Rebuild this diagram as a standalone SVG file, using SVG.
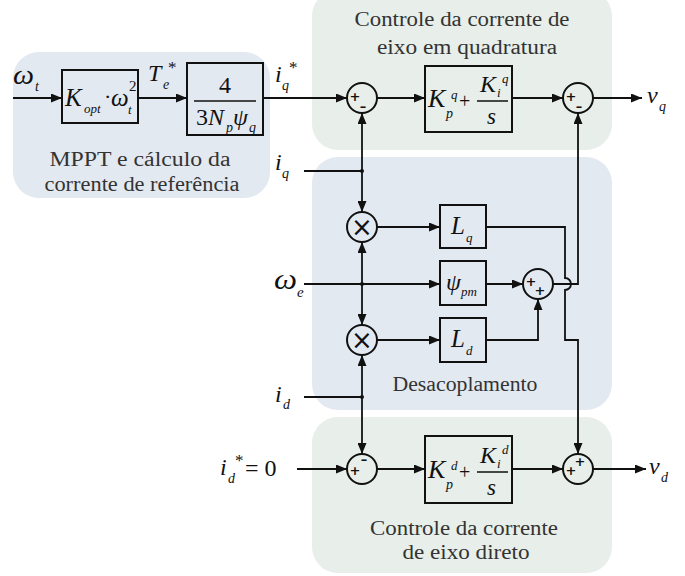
<svg xmlns="http://www.w3.org/2000/svg" width="685" height="576" viewBox="0 0 685 576" font-family="Liberation Serif, serif">
<defs>
<marker id="ar" markerUnits="userSpaceOnUse" markerWidth="11" markerHeight="9" refX="11" refY="4.5" orient="auto">
<path d="M0,0 L11,4.5 L0,9 z" fill="#111"/>
</marker>
</defs>

<g id="regions">
<rect id="mppt-region" fill="#e3e9f1" x="13" y="52" width="257" height="146" rx="26"/>
<rect id="q-region" fill="#e8eee9" x="312" y="-10" width="300" height="160" rx="26"/>
<rect id="dec-region" fill="#e3e9f1" x="312" y="157" width="300" height="253" rx="26"/>
<rect id="d-region" fill="#e8eee9" x="312" y="417" width="300" height="156" rx="26"/>
<g font-family="Liberation Serif" font-size="20" fill="#333" text-anchor="middle">
<text x="462" y="26" textLength="215" lengthAdjust="spacingAndGlyphs">Controle da corrente de</text>
<text x="467" y="54" textLength="180" lengthAdjust="spacingAndGlyphs">eixo em quadratura</text>
<text x="140" y="166" textLength="181" lengthAdjust="spacingAndGlyphs">MPPT e cálculo da</text>
<text x="142" y="191" textLength="195" lengthAdjust="spacingAndGlyphs">corrente de referência</text>
<text x="465" y="391" textLength="145" lengthAdjust="spacingAndGlyphs">Desacoplamento</text>
<text x="464" y="535" textLength="188" lengthAdjust="spacingAndGlyphs">Controle da corrente</text>
<text x="466" y="559" textLength="127" lengthAdjust="spacingAndGlyphs">de eixo direto</text>
</g>
</g>

<g id="inputs" font-family="Liberation Serif" fill="#111">
<g font-style="italic">
<text x="13" y="84" font-size="27" textLength="21" lengthAdjust="spacingAndGlyphs">ω</text>
<text x="35" y="91" font-size="14">t</text>
<text x="148" y="81" font-size="24">T</text>
<text x="163" y="89" font-size="14">e</text>
<text x="275" y="82" font-size="24">i</text>
<text x="282" y="90" font-size="14">q</text>
<text x="275" y="170" font-size="24">i</text>
<text x="282" y="178" font-size="14">q</text>
<text x="274" y="289" font-size="29" textLength="23" lengthAdjust="spacingAndGlyphs">ω</text>
<text x="297" y="297" font-size="15">e</text>
<text x="275" y="402" font-size="24">i</text>
<text x="283" y="409" font-size="14">d</text>
<text x="220" y="475" font-size="24">i</text>
<text x="228" y="483" font-size="14">d</text>
<text x="647" y="103" font-size="24">v</text>
<text x="659" y="111" font-size="14">q</text>
<text x="649" y="474" font-size="24">v</text>
<text x="661" y="482" font-size="14">d</text>
</g>
<text x="168" y="73" font-size="17">*</text>
<text x="289" y="73" font-size="17">*</text>
<text x="235" y="466" font-size="17">*</text>
<text x="245" y="476" font-size="24">= 0</text>
</g>

<g id="kopt" font-family="Liberation Serif" fill="#111">
<rect fill="none" stroke="#111" stroke-width="2" x="62" y="70" width="76" height="53"/>
<text x="65" y="106" font-size="25" font-style="italic">K</text>
<text x="84" y="113" font-size="13" font-style="italic">opt</text>
<text x="104" y="104" font-size="22">·</text>
<text x="111" y="106" font-size="25" font-style="italic">ω</text>
<text x="128" y="114" font-size="13" font-style="italic">t</text>
<text x="129" y="91" font-size="15">2</text>
</g>

<g id="gain" font-family="Liberation Serif" fill="#111">
<rect fill="none" stroke="#111" stroke-width="2" x="187" y="63" width="76" height="72"/>
<text x="225" y="93" font-size="24" text-anchor="middle">4</text>
<line stroke="#111" stroke-width="1.5" x1="194" y1="101" x2="256" y2="101"/>
<text x="196" y="125" font-size="24">3</text>
<text x="208" y="125" font-size="24" font-style="italic">N</text>
<text x="226" y="132" font-size="14" font-style="italic">p</text>
<text x="233" y="125" font-size="24" font-style="italic">ψ</text>
<text x="249" y="132" font-size="14" font-style="italic">q</text>
</g>

<g id="sum-q1" font-family="DejaVu Sans" font-weight="bold" font-size="13" fill="#111" text-anchor="middle">
<circle fill="none" stroke="#111" stroke-width="2" cx="362" cy="98" r="15"/>
<text x="355" y="101">+</text>
<text x="363" y="111">–</text>
</g>

<g id="pi-q" font-family="Liberation Serif" fill="#111">
<rect fill="none" stroke="#111" stroke-width="2" x="425" y="66" width="87" height="66"/>
<g font-style="italic">
<text x="428" y="107" font-size="26">K</text>
<text x="446" y="118" font-size="14">p</text>
<text x="451" y="99" font-size="13">q</text>
<text x="480" y="92" font-size="24">K</text>
<text x="497" y="97" font-size="13">i</text>
<text x="502" y="83" font-size="13">q</text>
<text x="487" y="124" font-size="23">s</text>
</g>
<text x="459" y="108" font-size="20">+</text>
<line stroke="#111" stroke-width="1.5" x1="477" y1="101" x2="508" y2="101"/>
</g>

<g id="sum-q2" font-family="DejaVu Sans" font-weight="bold" font-size="13" fill="#111" text-anchor="middle">
<circle fill="none" stroke="#111" stroke-width="2" cx="578" cy="98" r="15"/>
<text x="571" y="101">+</text>
<text x="579" y="111">–</text>
</g>

<g id="mult-1" font-family="DejaVu Sans" font-size="26" fill="#111" text-anchor="middle">
<circle fill="none" stroke="#111" stroke-width="2" cx="362" cy="227" r="15"/>
<text x="362" y="236">×</text>
</g>

<g id="mult-2" font-family="DejaVu Sans" font-size="26" fill="#111" text-anchor="middle">
<circle fill="none" stroke="#111" stroke-width="2" cx="362" cy="340" r="15"/>
<text x="362" y="349">×</text>
</g>

<g id="Lq" font-family="Liberation Serif" font-style="italic" fill="#111">
<rect fill="none" stroke="#111" stroke-width="2" x="440" y="205" width="46" height="43"/>
<text x="451" y="234" font-size="25">L</text>
<text x="466" y="242" font-size="13">q</text>
</g>

<g id="psi" font-family="Liberation Serif" font-style="italic" fill="#111">
<rect fill="none" stroke="#111" stroke-width="2" x="440" y="261" width="46" height="44"/>
<text x="446" y="290" font-size="24">ψ</text>
<text x="461" y="296" font-size="13">pm</text>
</g>

<g id="Ld" font-family="Liberation Serif" font-style="italic" fill="#111">
<rect fill="none" stroke="#111" stroke-width="2" x="440" y="318" width="46" height="44"/>
<text x="451" y="347" font-size="25">L</text>
<text x="466" y="355" font-size="13">d</text>
</g>

<g id="sum-dec" font-family="DejaVu Sans" font-weight="bold" font-size="13" fill="#111" text-anchor="middle">
<circle fill="none" stroke="#111" stroke-width="2" cx="538" cy="284" r="15"/>
<text x="531" y="286">+</text>
<text x="540" y="295">+</text>
</g>

<g id="sum-d1" font-family="DejaVu Sans" font-weight="bold" font-size="13" fill="#111" text-anchor="middle">
<circle fill="none" stroke="#111" stroke-width="2" cx="362" cy="469" r="15"/>
<text x="355" y="475">+</text>
<text x="364" y="464">–</text>
</g>

<g id="pi-d" font-family="Liberation Serif" fill="#111">
<rect fill="none" stroke="#111" stroke-width="2" x="425" y="436" width="87" height="67"/>
<g font-style="italic">
<text x="428" y="478" font-size="26">K</text>
<text x="446" y="489" font-size="14">p</text>
<text x="451" y="470" font-size="13">d</text>
<text x="480" y="463" font-size="24">K</text>
<text x="497" y="468" font-size="13">i</text>
<text x="502" y="454" font-size="13">d</text>
<text x="487" y="495" font-size="23">s</text>
</g>
<text x="459" y="479" font-size="20">+</text>
<line stroke="#111" stroke-width="1.5" x1="477" y1="472" x2="508" y2="472"/>
</g>

<g id="sum-d2" font-family="DejaVu Sans" font-weight="bold" font-size="13" fill="#111" text-anchor="middle">
<circle fill="none" stroke="#111" stroke-width="2" cx="578" cy="469" r="15"/>
<text x="571" y="475">+</text>
<text x="580" y="466">+</text>
</g>

<g id="connectors" fill="none" stroke="#111" stroke-width="1.8">
<path d="M13,98 H62" marker-end="url(#ar)"/>
<path d="M138,98 H187" marker-end="url(#ar)"/>
<path d="M263,98 H347" marker-end="url(#ar)"/>
<path d="M377,98 H425" marker-end="url(#ar)"/>
<path d="M512,98 H563" marker-end="url(#ar)"/>
<path d="M593,98 H642" marker-end="url(#ar)"/>
<path d="M304,171 H362"/>
<path d="M362,171 V113" marker-end="url(#ar)"/>
<path d="M362,171 V212" marker-end="url(#ar)"/>
<path d="M304,284 H440" marker-end="url(#ar)"/>
<path d="M362,284 V242" marker-end="url(#ar)"/>
<path d="M362,284 V325" marker-end="url(#ar)"/>
<path d="M304,397 H362"/>
<path d="M362,397 V355" marker-end="url(#ar)"/>
<path d="M362,397 V454" marker-end="url(#ar)"/>
<path d="M377,227 H440" marker-end="url(#ar)"/>
<path d="M377,340 H440" marker-end="url(#ar)"/>
<path d="M486,284 H523" marker-end="url(#ar)"/>
<path d="M486,340 H538 V299" marker-end="url(#ar)"/>
<path d="M553,284 H578 V113" marker-end="url(#ar)"/>
<path d="M486,227 H565 V278 A6,6 0 0 1 565,290 V340 H578 V454" marker-end="url(#ar)"/>
<path d="M297,469 H347" marker-end="url(#ar)"/>
<path d="M377,469 H425" marker-end="url(#ar)"/>
<path d="M512,469 H563" marker-end="url(#ar)"/>
<path d="M593,469 H646" marker-end="url(#ar)"/>
<g fill="#111" stroke="none">
<circle cx="362" cy="171" r="2"/>
<circle cx="362" cy="284" r="2"/>
<circle cx="362" cy="397" r="2"/>
</g>
</g>
</svg>
